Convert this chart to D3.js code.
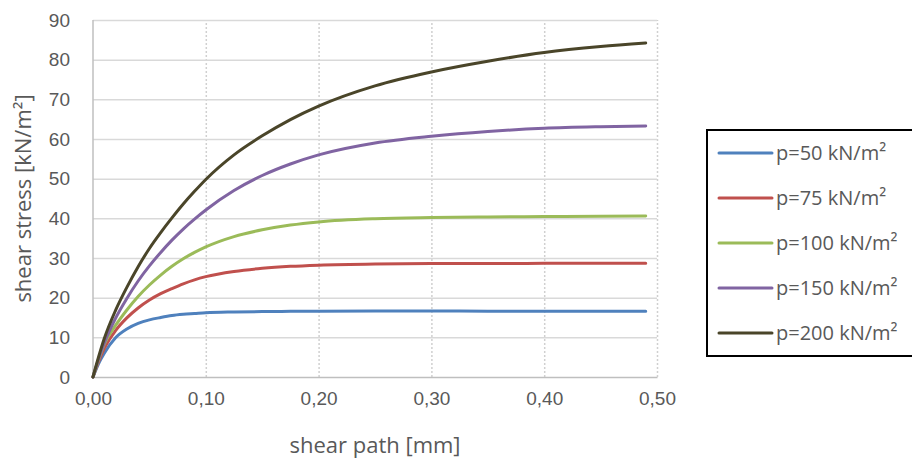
<!DOCTYPE html>
<html>
<head>
<meta charset="utf-8">
<script src="https://cdn.jsdelivr.net/npm/d3@7"></script>
<style>
  body { margin: 0; background: #fff; }
  svg { font-family: "Open Sans", Carlito, Calibri, sans-serif; }
</style>
</head>
<body>
<div id="chart"></div>
<script>
// shear path [mm]
const path = [0, 0.005, 0.01, 0.02, 0.03, 0.04, 0.05, 0.06, 0.07, 0.08, 0.09, 0.1,
  0.125, 0.15, 0.175, 0.2, 0.25, 0.3, 0.35, 0.4, 0.45, 0.49]

// shear stress [kN/m²] for each normal load
const p50 = [0, 3.4, 6.0, 9.9, 12.1, 13.5, 14.4, 15.0, 15.5, 15.8, 16.0, 16.2,
  16.4, 16.5, 16.55, 16.6, 16.65, 16.65, 16.6, 16.6, 16.6, 16.6]
const p75 = [0, 3.9, 7.2, 11.7, 14.9, 17.4, 19.4, 21.0, 22.3, 23.5, 24.5, 25.3,
  26.6, 27.4, 27.9, 28.2, 28.5, 28.6, 28.6, 28.65, 28.7, 28.7]
const p100 = [0, 4.4, 8.3, 13.0, 16.9, 20.3, 23.2, 25.7, 27.9, 29.8, 31.4, 32.8,
  35.4, 37.1, 38.3, 39.1, 39.9, 40.2, 40.35, 40.45, 40.55, 40.6]
const p150 = [0, 4.6, 8.6, 14.8, 19.8, 24.2, 28.0, 31.4, 34.5, 37.3, 39.8, 42.1,
  47.0, 50.8, 53.7, 56.0, 59.0, 60.7, 61.9, 62.7, 63.1, 63.3]
const p200 = [0, 5.1, 9.7, 16.8, 22.6, 27.8, 32.4, 36.4, 40.1, 43.6, 46.8, 49.8,
  56.0, 60.8, 64.9, 68.3, 73.4, 76.9, 79.6, 81.8, 83.3, 84.2]

const names = ['p=50 kN/m²', 'p=75 kN/m²', 'p=100 kN/m²', 'p=150 kN/m²', 'p=200 kN/m²']
const colors = ['#4f81bd', '#c0504d', '#9bbb59', '#8064a2', '#4a4529']
const seriesValues = [p50, p75, p100, p150, p200]

const xTicks = [0, 0.1, 0.2, 0.3, 0.4, 0.5]
const yTicks = [0, 10, 20, 30, 40, 50, 60, 70, 80, 90]

const width = 912
const height = 462
const margin = { top: 20, right: 255, bottom: 85, left: 93 }
const innerWidth = width - margin.left - margin.right
const innerHeight = height - margin.top - margin.bottom

const svg = d3.select('#chart')
  .append('svg')
  .attr('width', width)
  .attr('height', height)

const chart = svg.append('g')
  .attr('transform', `translate(${margin.left},${margin.top})`)

const x = d3.scaleLinear().domain([0, 0.5]).range([0, innerWidth])
const y = d3.scaleLinear().domain([0, 90]).range([innerHeight, 0])

const fmt = d => d3.format('.2f')(d).replace('.', ',')

// vertical dotted grid
chart.append('g')
  .attr('class', 'x-grid')
  .attr('transform', `translate(0,${innerHeight})`)
  .call(d3.axisBottom(x).tickValues(xTicks.slice(1)).tickSize(-innerHeight).tickFormat(''))
  .call(g => g.select('.domain').remove())
  .call(g => g.selectAll('line')
    .attr('stroke', '#d0d0d0')
    .attr('stroke-width', 1.5)
    .attr('stroke-dasharray', '2,2'))

// horizontal grid + y labels
chart.append('g')
  .attr('class', 'y-axis')
  .call(d3.axisLeft(y).tickValues(yTicks).tickSize(-innerWidth).tickPadding(23))
  .call(g => g.select('.domain').remove())
  .call(g => g.selectAll('line')
    .attr('stroke', d => d === 0 ? 'none' : '#d9d9d9')
    .attr('stroke-width', 1.5))
  .call(g => g.selectAll('text')
    .attr('fill', '#595959')
    .style('font-size', '19px'))

// x axis
chart.append('g')
  .attr('class', 'x-axis')
  .attr('transform', `translate(0,${innerHeight})`)
  .call(d3.axisBottom(x).tickValues(xTicks).tickSize(0).tickPadding(15).tickFormat(fmt))
  .call(g => g.select('.domain').attr('stroke', '#bfbfbf').attr('stroke-width', 1.5))
  .call(g => g.selectAll('text')
    .attr('fill', '#595959')
    .style('font-size', '19px'))

// y axis line
chart.append('line')
  .attr('x1', 0).attr('x2', 0)
  .attr('y1', 0).attr('y2', innerHeight)
  .attr('stroke', '#bfbfbf')
  .attr('stroke-width', 1.5)

const line = d3.line()
  .x((d, i) => x(path[i]))
  .y(d => y(d))
  .curve(d3.curveMonotoneX)

chart.selectAll('.series')
  .data(seriesValues)
  .enter()
  .append('path')
  .attr('class', 'series')
  .attr('d', line)
  .attr('fill', 'none')
  .attr('stroke', (d, i) => colors[i])
  .attr('stroke-width', 3)
  .attr('stroke-linecap', 'round')

// axis titles
svg.append('text')
  .attr('x', margin.left + innerWidth / 2)
  .attr('y', 453)
  .attr('text-anchor', 'middle')
  .attr('fill', '#595959')
  .style('font-size', '22px')
  .text('shear path [mm]')

svg.append('text')
  .attr('transform', `translate(31,${margin.top + innerHeight / 2}) rotate(-90)`)
  .attr('text-anchor', 'middle')
  .attr('fill', '#595959')
  .style('font-size', '22px')
  .text('shear stress [kN/m²]')

// legend
svg.append('rect')
  .attr('x', 707)
  .attr('y', 130)
  .attr('width', 220)
  .attr('height', 226)
  .attr('fill', '#fff')
  .attr('stroke', '#000')
  .attr('stroke-width', 2)

const legend = svg.selectAll('.legend')
  .data(names)
  .enter()
  .append('g')
  .attr('class', 'legend')
  .attr('transform', (d, i) => `translate(719, ${153 + i * 45})`)

legend.append('line')
  .attr('x1', 0).attr('x2', 53)
  .attr('stroke', (d, i) => colors[i])
  .attr('stroke-width', 3)
  .attr('stroke-linecap', 'round')

legend.append('text')
  .attr('x', 57)
  .attr('dy', '0.35em')
  .attr('fill', '#595959')
  .style('font-size', '20px')
  .text(d => d)
</script>
</body>
</html>
